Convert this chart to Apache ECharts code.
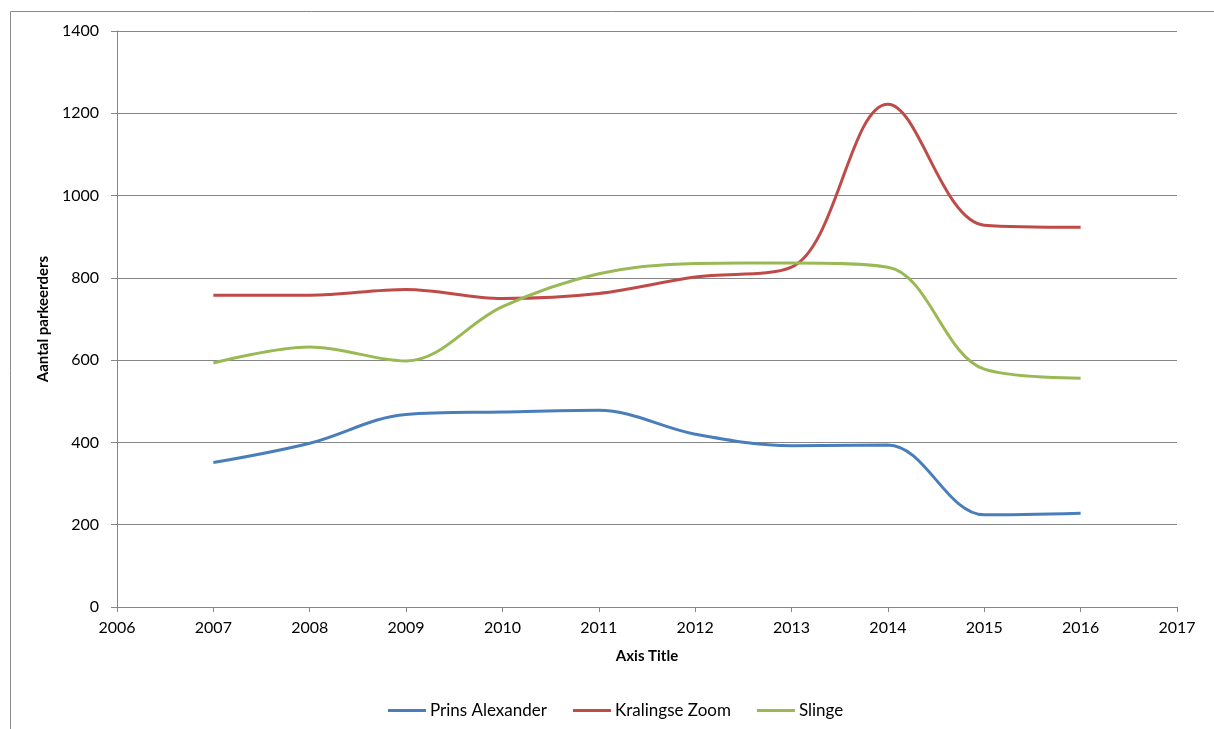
<!DOCTYPE html>
<html>
<head>
<meta charset="utf-8">
<script src="https://cdn.jsdelivr.net/npm/echarts@6/dist/echarts.min.js"></script>
<style>
html,body{margin:0;padding:0;background:#fff;}
#chart{width:1214px;height:729px;}
</style>
</head>
<body>
<div id="chart"></div>
<script>
const years = [2007, 2008, 2009, 2010, 2011, 2012, 2013, 2014, 2015, 2016];
const seriesNames = ['Prins Alexander', 'Kralingse Zoom', 'Slinge'];
const prinsAlexander = [351, 398, 468, 474, 478, 420, 392, 394, 224, 228];
const kralingseZoom = [758, 758, 772, 750, 762, 802, 826, 1222, 928, 923];
const slinge = [593, 632, 598, 730, 810, 835, 836, 826, 578, 556];
const colors = ['#4A7EBB', '#BE4B48', '#98B954'];

const FONT = 'Lato';
const allValues = [prinsAlexander, kralingseZoom, slinge];

const chart = echarts.init(document.getElementById('chart'), null, {renderer: 'canvas'});
chart.setOption({
  animation: false,
  backgroundColor: '#ffffff',
  textStyle: {fontFamily: FONT, color: '#000'},
  graphic: [{
    type: 'rect',
    shape: {x: 10.5, y: 11.5, width: 1400, height: 1000},
    style: {fill: 'none', stroke: '#8a8a8a', lineWidth: 1},
    silent: true
  }],
  grid: {left: 117, right: 37, top: 31, bottom: 122, containLabel: false},
  legend: {
    left: 383,
    top: 697,
    itemWidth: 38,
    itemHeight: 3,
    itemGap: 26,
    icon: 'rect',
    textStyle: {fontFamily: FONT, fontSize: 17, color: '#000', padding: [0, 0, 0, -1]},
    data: seriesNames
  },
  xAxis: {
    type: 'value',
    min: 2006,
    max: 2017,
    interval: 1,
    name: 'Axis Title',
    nameLocation: 'middle',
    nameGap: 42,
    nameTextStyle: {fontFamily: FONT, fontSize: 15, fontWeight: 'bold', color: '#000'},
    axisLine: {show: true, lineStyle: {color: '#868686', width: 1}},
    axisTick: {show: true, inside: false, length: 5, lineStyle: {color: '#868686'}},
    axisLabel: {color: '#000', fontFamily: FONT, fontSize: 16, margin: 13, formatter: v => String(v)},
    splitLine: {show: false}
  },
  yAxis: {
    type: 'value',
    min: 0,
    max: 1400,
    interval: 200,
    name: 'Aantal parkeerders',
    nameLocation: 'middle',
    nameGap: 59,
    nameRotate: 90,
    nameTextStyle: {fontFamily: FONT, fontSize: 15, fontWeight: 'bold', color: '#000'},
    axisLine: {show: true, lineStyle: {color: '#868686', width: 1}},
    axisTick: {show: true, inside: false, length: 6, lineStyle: {color: '#868686'}},
    axisLabel: {color: '#000', fontFamily: FONT, fontSize: 16, margin: 18, formatter: v => String(v)},
    splitLine: {show: true, lineStyle: {color: '#868686', width: 1}}
  },
  series: seriesNames.map((name, i) => ({
    name: name,
    type: 'line',
    smooth: 0.35,
    symbol: 'none',
    lineStyle: {color: colors[i], width: 3},
    itemStyle: {color: colors[i]},
    data: years.map((y, j) => [y, allValues[i][j]])
  }))
});
</script>
</body>
</html>
